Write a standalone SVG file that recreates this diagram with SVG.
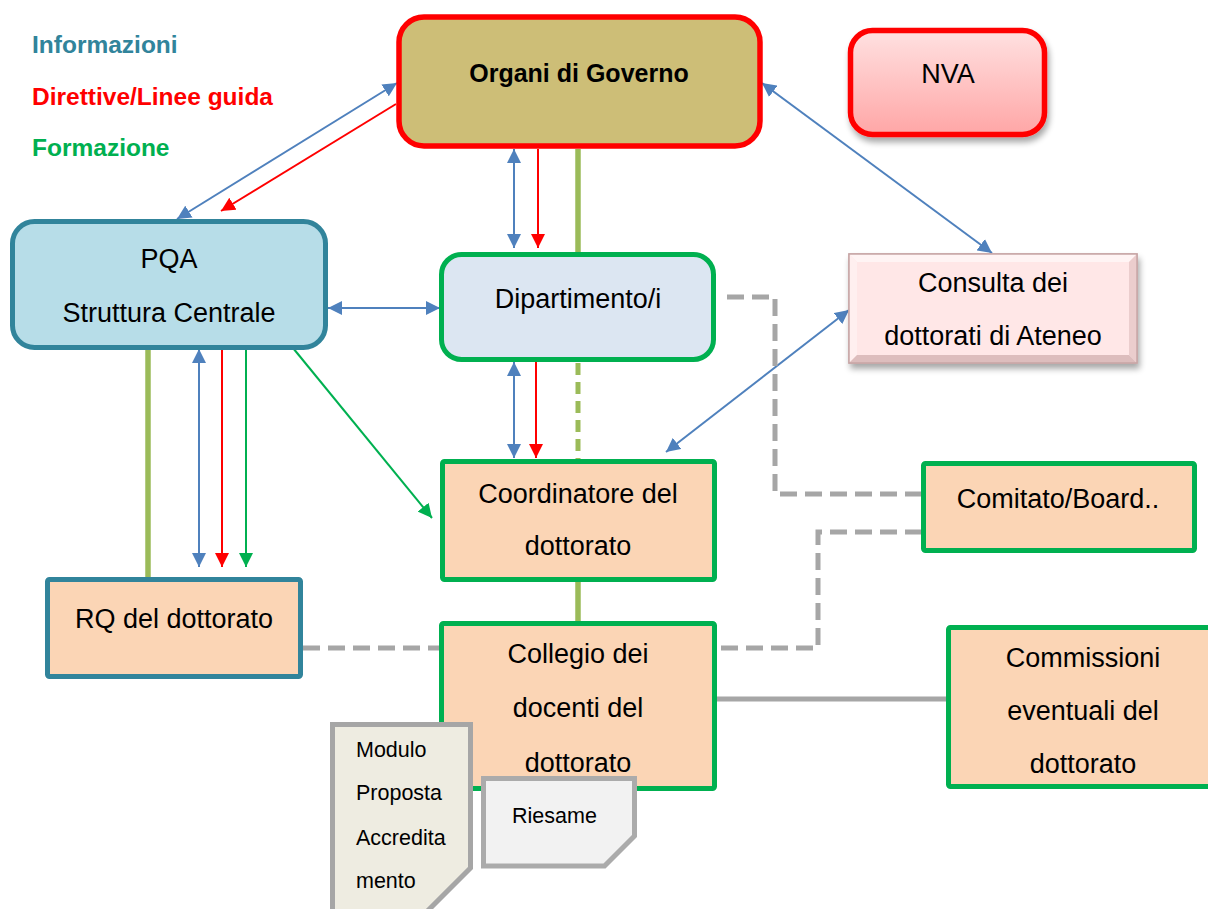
<svg xmlns="http://www.w3.org/2000/svg" width="1208" height="909" viewBox="0 0 1208 909">
<style>
  text { font-family: "Liberation Sans", Arial, sans-serif; fill: #000; }
  .t { font-size: 27px; text-anchor: middle; }
  .leg { font-size: 24.5px; font-weight: bold; }
  .doc { font-size: 21.5px; }
  .blue { stroke: #4F81BD; stroke-width: 2; fill: none; }
  .red { stroke: #FF0000; stroke-width: 2; fill: none; }
  .green { stroke: #00B050; stroke-width: 2; fill: none; }
  .olive { stroke: #9BBB59; stroke-width: 5.5; fill: none; }
  .olived { stroke: #9BBB59; stroke-width: 5; fill: none; stroke-dasharray: 12 7; }
  .greyd { stroke: #A6A6A6; stroke-width: 5; fill: none; stroke-dasharray: 17 8; }
  .grey { stroke: #A6A6A6; stroke-width: 5; fill: none; }
  .gbox { fill: #FBD5B5; stroke: #00B050; stroke-width: 5; }
</style>
<defs>
  <marker id="ab" viewBox="0 0 14 14" refX="14" refY="7" markerWidth="14" markerHeight="14" markerUnits="userSpaceOnUse" orient="auto-start-reverse">
    <path d="M0,0 L14,7 L0,14 z" fill="#4F81BD"/>
  </marker>
  <marker id="ar" viewBox="0 0 14 14" refX="14" refY="7" markerWidth="14" markerHeight="14" markerUnits="userSpaceOnUse" orient="auto-start-reverse">
    <path d="M0,0 L14,7 L0,14 z" fill="#FF0000"/>
  </marker>
  <marker id="ag" viewBox="0 0 14 14" refX="14" refY="7" markerWidth="14" markerHeight="14" markerUnits="userSpaceOnUse" orient="auto-start-reverse">
    <path d="M0,0 L14,7 L0,14 z" fill="#00B050"/>
  </marker>
  <linearGradient id="nvaGrad" x1="0" y1="0" x2="0" y2="1">
    <stop offset="0" stop-color="#FFE1E1"/>
    <stop offset="1" stop-color="#FFA6A6"/>
  </linearGradient>
  <filter id="shadow" x="-10%" y="-10%" width="130%" height="140%">
    <feGaussianBlur in="SourceAlpha" stdDeviation="3"/>
    <feOffset dx="2" dy="5" result="b"/>
    <feComponentTransfer><feFuncA type="linear" slope="0.35"/></feComponentTransfer>
    <feMerge><feMergeNode/><feMergeNode in="SourceGraphic"/></feMerge>
  </filter>
</defs>

<g id="legend">
  <text class="leg" x="32" y="53" fill="#31849B" style="fill:#31849B">Informazioni</text>
  <text class="leg" x="32" y="105" style="fill:#FF0000">Direttive/Linee guida</text>
  <text class="leg" x="32" y="156" style="fill:#00B050">Formazione</text>
</g>

<g id="connectors">
  <line class="blue" x1="397" y1="83" x2="177" y2="219" marker-start="url(#ab)" marker-end="url(#ab)"/>
  <line class="red" x1="396" y1="104" x2="221" y2="211" marker-end="url(#ar)"/>
  <line class="blue" x1="514" y1="149" x2="514" y2="248" marker-start="url(#ab)" marker-end="url(#ab)"/>
  <line class="red" x1="538" y1="149" x2="538" y2="248" marker-end="url(#ar)"/>
  <line class="olive" x1="578" y1="149" x2="578" y2="254"/>
  <line class="blue" x1="762" y1="83" x2="992" y2="253" marker-start="url(#ab)" marker-end="url(#ab)"/>
  <line class="blue" x1="328" y1="308" x2="440" y2="308" marker-start="url(#ab)" marker-end="url(#ab)"/>
  <line class="olive" x1="148" y1="349" x2="148" y2="578"/>
  <line class="blue" x1="199" y1="349" x2="199" y2="567" marker-start="url(#ab)" marker-end="url(#ab)"/>
  <line class="red" x1="222" y1="349" x2="222" y2="567" marker-end="url(#ar)"/>
  <line class="green" x1="246" y1="349" x2="246" y2="567" marker-end="url(#ag)"/>
  <line class="green" x1="293" y1="348" x2="432" y2="518" marker-end="url(#ag)"/>
  <line class="blue" x1="514" y1="362" x2="514" y2="458" marker-start="url(#ab)" marker-end="url(#ab)"/>
  <line class="red" x1="536" y1="362" x2="536" y2="458" marker-end="url(#ar)"/>
  <line class="olived" x1="578" y1="363" x2="578" y2="461"/>
  <line class="blue" x1="666" y1="452" x2="849" y2="310" marker-start="url(#ab)" marker-end="url(#ab)"/>
  <path class="greyd" d="M727,297 H775 V494 H922"/>
  <path class="greyd" d="M922,532 H818 V648 H717"/>
  <line class="olive" x1="578" y1="582" x2="578" y2="622"/>
  <line class="greyd" x1="303" y1="648" x2="440" y2="648"/>
  <line class="grey" x1="717" y1="699" x2="946" y2="699"/>
</g>

<g id="organi">
  <rect x="399" y="17" width="361" height="129" rx="25" fill="#CDBE77" stroke="#FF0000" stroke-width="5.5"/>
  <text x="579" y="82" style="font-size:25px;font-weight:bold;text-anchor:middle">Organi di Governo</text>
</g>

<g id="nva">
  <rect x="850.5" y="30.5" width="194" height="104" rx="22" fill="url(#nvaGrad)" stroke="#FF0000" stroke-width="5.5" filter="url(#shadow)"/>
  <text class="t" x="948" y="83">NVA</text>
</g>

<g id="pqa">
  <rect x="12.5" y="221.5" width="313" height="126" rx="22" fill="#B7DDE8" stroke="#31849B" stroke-width="5"/>
  <text class="t" x="169" y="268">PQA</text>
  <text class="t" x="169" y="322">Struttura Centrale</text>
</g>

<g id="dipartimento">
  <rect x="441.5" y="254.5" width="272" height="105" rx="20" fill="#DCE6F2" stroke="#00B050" stroke-width="5"/>
  <text class="t" x="578" y="308">Dipartimento/i</text>
</g>

<g id="consulta">
  <g filter="url(#shadow)">
    <rect x="849" y="254" width="288" height="109" fill="#FFE7E7" stroke="#C7A6A6" stroke-width="1.5"/>
  </g>
  <polygon points="849,254 1137,254 1129,262 857,262" fill="#FFF4F4"/>
  <polygon points="849,254 857,262 857,355 849,363" fill="#FFEFEF"/>
  <polygon points="1137,254 1137,363 1129,355 1129,262" fill="#EBCDCD"/>
  <polygon points="849,363 857,355 1129,355 1137,363" fill="#DDBDBD"/>
  <rect x="849" y="254" width="288" height="109" fill="none" stroke="#C7A6A6" stroke-width="1.5"/>
  <text class="t" x="993" y="292">Consulta dei</text>
  <text class="t" x="993" y="345">dottorati di Ateneo</text>
</g>

<g id="coordinatore">
  <rect class="gbox" x="442.5" y="461.5" width="272" height="118" rx="2"/>
  <text class="t" x="578" y="503">Coordinatore del</text>
  <text class="t" x="578" y="555">dottorato</text>
</g>

<g id="comitato">
  <rect class="gbox" x="923.5" y="463.5" width="271" height="87" rx="2"/>
  <text class="t" x="1058" y="508">Comitato/Board..</text>
</g>

<g id="rq">
  <rect x="47.5" y="579.5" width="253" height="97" rx="2" fill="#FBD5B5" stroke="#31849B" stroke-width="5"/>
  <text class="t" x="174" y="628">RQ del dottorato</text>
</g>

<g id="collegio">
  <rect class="gbox" x="441.5" y="623.5" width="273" height="165" rx="2"/>
  <text class="t" x="578" y="663">Collegio dei</text>
  <text class="t" x="578" y="717">docenti del</text>
  <text class="t" x="578" y="772">dottorato</text>
</g>

<g id="commissioni">
  <rect class="gbox" x="948.5" y="627.5" width="270" height="159" rx="2"/>
  <text class="t" x="1083" y="667">Commissioni</text>
  <text class="t" x="1083" y="720">eventuali del</text>
  <text class="t" x="1083" y="773">dottorato</text>
</g>

<g id="modulo">
  <path d="M332.5,724.5 H470.5 V868 L408,930.5 H332.5 Z" fill="#EEECE1" stroke="#A6A6A6" stroke-width="5"/>
  <text class="doc" x="356" y="757">Modulo</text>
  <text class="doc" x="356" y="800">Proposta</text>
  <text class="doc" x="356" y="845">Accredita</text>
  <text class="doc" x="356" y="888">mento</text>
</g>

<g id="riesame">
  <path d="M483.5,778.5 H634.5 V836 L604.5,866 H483.5 Z" fill="#F2F2F2" stroke="#ABABAB" stroke-width="5"/>
  <text class="doc" x="512" y="823">Riesame</text>
</g>
</svg>
